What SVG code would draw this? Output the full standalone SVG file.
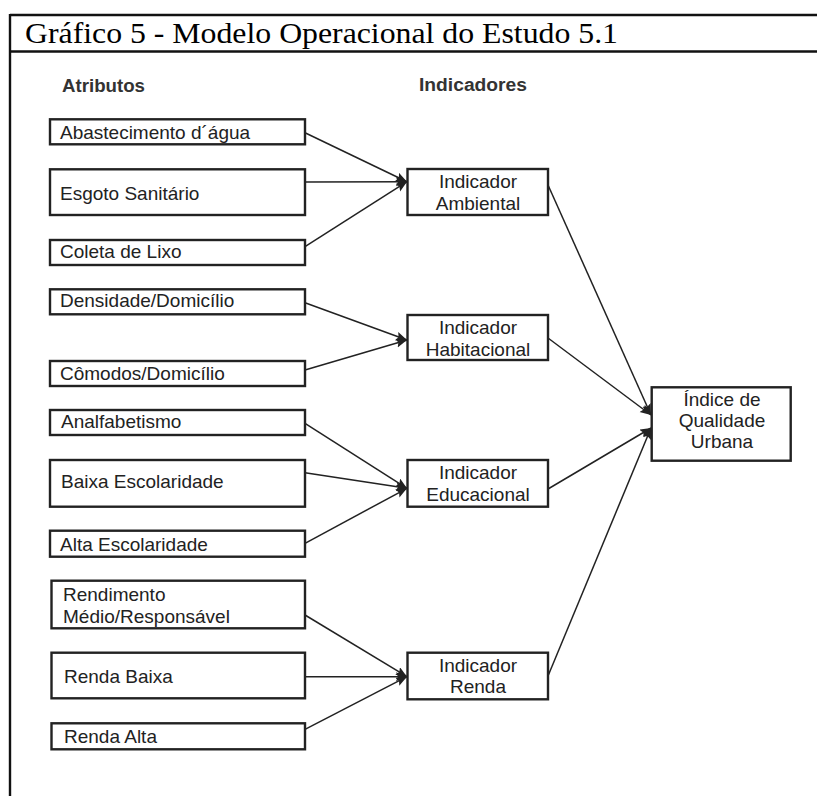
<svg xmlns="http://www.w3.org/2000/svg" width="817" height="796" viewBox="0 0 817 796">
  <style>
    .frame { stroke: #111; stroke-width: 2.4; fill: none; }
    .box { fill: #fff; stroke: #222; stroke-width: 2.4; }
    .lbl { font-family: "Liberation Sans", Arial, sans-serif; font-size: 19px; fill: #222; }
    .mid { text-anchor: middle; }
    .head { font-family: "Liberation Sans", Arial, sans-serif; font-size: 17.5px; font-weight: bold; fill: #333; }
    .title { font-family: "Liberation Serif", "Times New Roman", serif; font-size: 30px; fill: #000; }
    .wire { stroke: #222; stroke-width: 1.5; fill: none; marker-end: url(#tip); }
  </style>
  <defs>
    <marker id="tip" markerUnits="userSpaceOnUse" markerWidth="12" markerHeight="10" refX="11" refY="4.5" orient="auto">
      <path d="M0,0 L11,4.5 L0,9 L2,4.5 Z" fill="#222"/>
    </marker>
  </defs>

  <rect width="817" height="796" fill="#fff"/>

  <!-- page frame and caption band -->
  <g id="frame">
    <line class="frame" x1="10" y1="15" x2="817" y2="15"/>
    <line class="frame" x1="10" y1="51.5" x2="817" y2="51.5"/>
    <line class="frame" x1="10" y1="14" x2="10" y2="796"/>
    <text class="title" x="25" y="43" textLength="593" lengthAdjust="spacingAndGlyphs">Gráfico 5 - Modelo Operacional do Estudo 5.1</text>
  </g>

  <g id="headers">
    <text class="head" x="62" y="91.5" textLength="83" lengthAdjust="spacingAndGlyphs">Atributos</text>
    <text class="head" x="419" y="91" textLength="108" lengthAdjust="spacingAndGlyphs">Indicadores</text>
  </g>

  <!-- connectors -->
  <g id="connectors">
    <line class="wire" x1="305" y1="132.7" x2="407" y2="181.7"/>
    <line class="wire" x1="305" y1="182" x2="407" y2="181.7"/>
    <line class="wire" x1="305" y1="246.7" x2="407" y2="181.7"/>

    <line class="wire" x1="305" y1="302.7" x2="407" y2="340"/>
    <line class="wire" x1="305" y1="370" x2="407" y2="340"/>

    <line class="wire" x1="305" y1="423.3" x2="407" y2="488.3"/>
    <line class="wire" x1="305" y1="472.7" x2="407" y2="488.3"/>
    <line class="wire" x1="305" y1="543.3" x2="407" y2="488.3"/>

    <line class="wire" x1="305" y1="615" x2="407" y2="676.7"/>
    <line class="wire" x1="305" y1="676.7" x2="407" y2="676.7"/>
    <line class="wire" x1="305" y1="729.3" x2="407" y2="676.7"/>

    <line class="wire" x1="548" y1="185" x2="651" y2="415"/>
    <line class="wire" x1="548" y1="338" x2="651" y2="415"/>
    <line class="wire" x1="548" y1="489" x2="651" y2="428"/>
    <line class="wire" x1="548" y1="676" x2="651" y2="428"/>
  </g>

  <!-- attributes -->
  <g id="abastecimento">
    <rect class="box" x="50" y="119.3" width="255" height="25"/>
    <text class="lbl" x="60" y="139.3">Abastecimento d´água</text>
  </g>
  <g id="esgoto">
    <rect class="box" x="50" y="169.3" width="255" height="45.7"/>
    <text class="lbl" x="60" y="200">Esgoto Sanitário</text>
  </g>
  <g id="coleta">
    <rect class="box" x="50" y="240" width="255" height="25"/>
    <text class="lbl" x="60" y="258.3">Coleta de Lixo</text>
  </g>
  <g id="densidade">
    <rect class="box" x="50" y="289.3" width="255" height="25"/>
    <text class="lbl" x="60" y="307.3">Densidade/Domicílio</text>
  </g>
  <g id="comodos">
    <rect class="box" x="50" y="361" width="255" height="25"/>
    <text class="lbl" x="60" y="380">Cômodos/Domicílio</text>
  </g>
  <g id="analfabetismo">
    <rect class="box" x="50" y="410" width="255" height="25"/>
    <text class="lbl" x="61" y="428.3">Analfabetismo</text>
  </g>
  <g id="baixa-escolaridade">
    <rect class="box" x="50" y="460" width="255" height="46.7"/>
    <text class="lbl" x="61" y="488.3">Baixa Escolaridade</text>
  </g>
  <g id="alta-escolaridade">
    <rect class="box" x="50" y="530.7" width="255" height="26"/>
    <text class="lbl" x="60" y="550.7">Alta Escolaridade</text>
  </g>
  <g id="rendimento">
    <rect class="box" x="51.5" y="580.7" width="253.5" height="47.6"/>
    <text class="lbl" x="63" y="600.7">Rendimento</text>
    <text class="lbl" x="63" y="622.7">Médio/Responsável</text>
  </g>
  <g id="renda-baixa">
    <rect class="box" x="51.5" y="652.7" width="253.5" height="45.6"/>
    <text class="lbl" x="64" y="682.7">Renda Baixa</text>
  </g>
  <g id="renda-alta">
    <rect class="box" x="51.5" y="723.3" width="253.5" height="26"/>
    <text class="lbl" x="64" y="742.7">Renda Alta</text>
  </g>

  <!-- indicators -->
  <g id="ind-ambiental">
    <rect class="box" x="407.5" y="169" width="140.5" height="46"/>
    <text class="lbl mid" x="478" y="188.3">Indicador</text>
    <text class="lbl mid" x="478" y="210">Ambiental</text>
  </g>
  <g id="ind-habitacional">
    <rect class="box" x="407.5" y="315" width="140.5" height="45"/>
    <text class="lbl mid" x="478" y="334">Indicador</text>
    <text class="lbl mid" x="478" y="355.5">Habitacional</text>
  </g>
  <g id="ind-educacional">
    <rect class="box" x="407.5" y="460" width="140.5" height="46.7"/>
    <text class="lbl mid" x="478" y="479">Indicador</text>
    <text class="lbl mid" x="478" y="501">Educacional</text>
  </g>
  <g id="ind-renda">
    <rect class="box" x="407.5" y="652.7" width="140.5" height="46.6"/>
    <text class="lbl mid" x="478" y="671.7">Indicador</text>
    <text class="lbl mid" x="478" y="693.3">Renda</text>
  </g>

  <!-- overall index -->
  <g id="indice">
    <rect class="box" x="651.7" y="387.3" width="139" height="73.4"/>
    <text class="lbl mid" x="722" y="406">Índice de</text>
    <text class="lbl mid" x="722" y="426.7">Qualidade</text>
    <text class="lbl mid" x="722" y="448.3">Urbana</text>
  </g>
</svg>
